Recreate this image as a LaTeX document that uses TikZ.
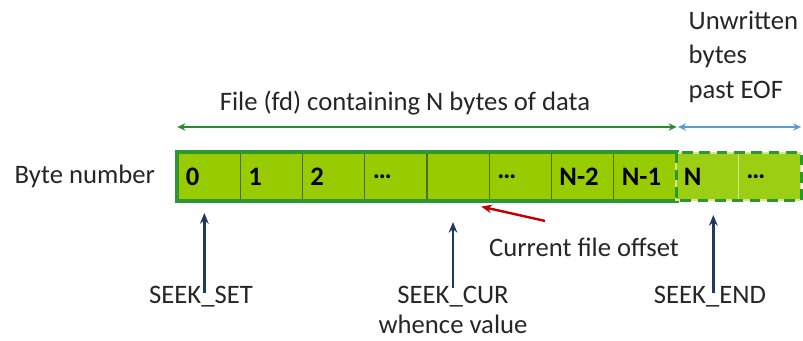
\documentclass[tikz,border=0pt]{standalone}
\usepackage{fontspec}
\setmainfont{Carlito}
\usepackage{tikz}
\usetikzlibrary{arrows.meta, positioning, calc}
\definecolor{bytegreen}{HTML}{99CC00}
\definecolor{bytegreenlt}{HTML}{9CCF14}
\definecolor{frameborder}{HTML}{2E9632}
\definecolor{celledge}{HTML}{4C6E0A}
\definecolor{spangreen}{HTML}{2A8A2E}
\definecolor{eofblue}{HTML}{5B9BD5}
\definecolor{seeknavy}{HTML}{1F3864}
\definecolor{offsetred}{HTML}{C00000}
\newcommand{\lblfont}{\fontsize{20}{22.5}\selectfont}

\tikzset{
  cell/.style={draw=celledge, line width=0.9pt, fill=bytegreen,
    minimum height=35.25pt, text width=34.7pt, inner xsep=6pt, inner ysep=0pt,
    align=left, font=\lblfont\bfseries},
  ghostcell/.style={cell, fill=bytegreenlt, draw=white!55!bytegreen},
  lbl/.style={font=\lblfont, text=black!85},
  seekptr/.style={draw=seeknavy, line width=1.8pt, -{Stealth[length=8pt,width=6.5pt]}},
}

\begin{document}
\begin{tikzpicture}[x=0.75pt, y=-0.75pt]
  \useasboundingbox (0,0) rectangle (803,341);

  % bytes of the file
  \node[cell] (c0) at (209.1,176.5) {0};
  \node[cell] (c1) at (271.4,176.5) {1};
  \node[cell] (c2) at (333.6,176.5) {2};
  \node[cell] (c3) at (395.9,176.5) {\dots};
  \node[cell] (c4) at (458.1,176.5) {};
  \node[cell] (c5) at (520.4,176.5) {\dots};
  \node[cell] (c6) at (582.6,176.5) {N-2};
  \node[cell] (c7) at (644.9,176.5) {N-1};
  \draw[frameborder, line width=3pt] (c0.north west) rectangle (c7.south east);

  % past EOF
  \node[ghostcell] (d0) at (707.1,176.5) {N};
  \node[ghostcell] (d1) at (769.4,176.5) {\dots};
  \draw[frameborder, line width=2.2pt, dash pattern=on 8pt off 5pt]
    (c7.north east) rectangle (d1.south east);

  % labels
  \node[lbl, anchor=west] (bytenum) at (10,176) {Byte number};
  \node[lbl] (span) at (405,103) {File (fd) containing N bytes of data};
  \node[lbl, anchor=north west, align=left, font=\fontsize{20}{26}\selectfont]
    (unwritten) at (684,6) {Unwritten\\ bytes\\past EOF};

  \draw[spangreen, line width=1.8pt, {Stealth[length=6pt,width=5.5pt]}-{Stealth[length=6pt,width=5.5pt]}]
    (c0.west |- 0,127) -- (c7.east |- 0,127);
  \draw[eofblue, line width=1.8pt, {Stealth[length=6pt,width=5.5pt]}-{Stealth[length=6pt,width=5.5pt]}]
    ([xshift=2pt]d0.west |- 0,127) -- (d1.east |- 0,127);

  % whence values
  \node[lbl] (seekset) at (201,297) {SEEK\_SET};
  \node[lbl, align=center] (seekcur) at (453,310) {SEEK\_CUR\\whence value};
  \node[lbl] (seekend) at (710,297) {SEEK\_END};

  \draw[seekptr] ([xshift=2.5pt,yshift=-8pt]seekset.north) -- ([xshift=2.5pt]seekset.north |- 0,213);
  \draw[seekptr] ([yshift=-5pt]seekcur.north) -- (seekcur.north |- 0,222);
  \draw[seekptr] ([xshift=2.5pt,yshift=-8pt]seekend.north) -- ([xshift=2.5pt]seekend.north |- 0,215);

  % current offset
  \node[lbl] (offset) at (584,247) {Current file offset};
  \draw[offsetred, line width=1.8pt, -{Stealth[length=8pt,width=6.5pt]}]
    ($(offset.north)+(-39,-12)$) -- ([xshift=-6.5pt,yshift=-4.5pt]c4.south east);
\end{tikzpicture}
\end{document}
